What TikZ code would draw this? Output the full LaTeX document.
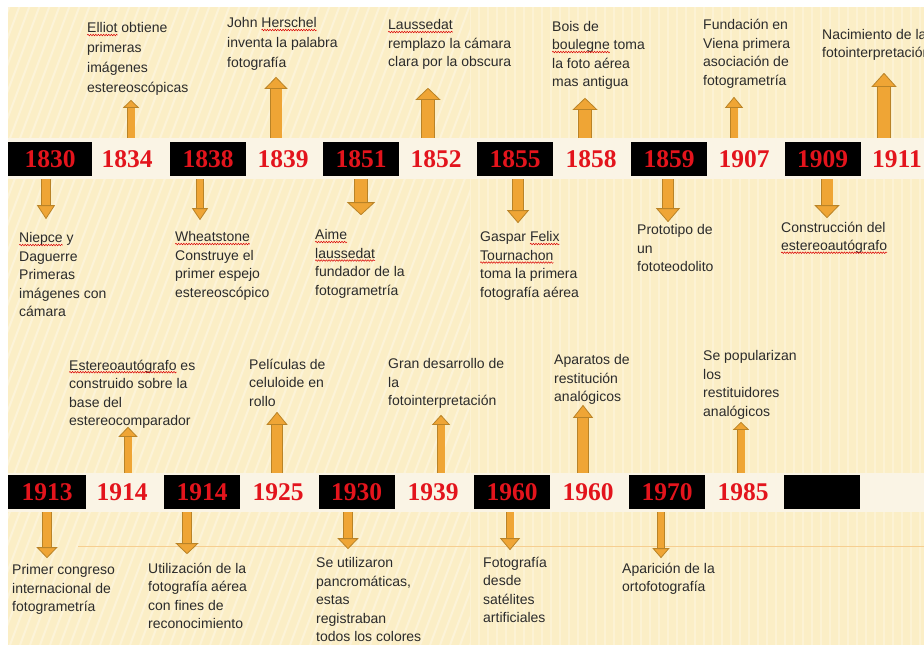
\documentclass[tikz,border=0pt]{standalone}
\usepackage{fontspec}
\usetikzlibrary{arrows.meta,decorations.pathmorphing}
\setmainfont{Liberation Sans}
\newfontfamily\yearfont{Liberation Serif}
\definecolor{panel}{HTML}{FBEEC6}
\definecolor{stripc}{HTML}{FAF4E5}
\definecolor{yearred}{HTML}{E3141C}
\definecolor{arrfill}{HTML}{EFA535}
\definecolor{arrline}{HTML}{B98327}
\definecolor{txt}{HTML}{2B2B2B}
\newcommand\sq[1]{\tikz[baseline=(w.base)]{\node[inner sep=0pt, outer sep=0pt, anchor=base west] (w) {#1};
  \draw[overlay, red!85!black, line width=0.5pt, decorate, decoration={snake, amplitude=0.8pt, segment length=2.6pt}]
    ([yshift=-2.2pt]w.base west) -- ([yshift=-2.2pt]w.base east);}}
\begin{document}
\begin{tikzpicture}[x=1pt,y=-1pt,
  yr/.style={minimum width=76pt, minimum height=34pt, inner sep=0pt,
    font=\yearfont\bfseries\fontsize{25.5}{25.5}\selectfont, text=yearred},
  blk/.style={yr, fill=black},
  ev/.style={anchor=north west, inner sep=0pt, align=left, text=txt,
    font=\fontsize{14}{18.5}\selectfont},
  wide/.style={font=\fontsize{14}{20}\selectfont},
  strip/.style={fill=stripc, inner sep=0pt, minimum width=916pt},
  stripe/.style={white, opacity=0.32, line width=2pt},
  barr/.style n args={3}{line width=#1, draw=arrfill,
    -{Triangle[width=#2, length=#3, line width=0.8pt, color=arrline, fill=arrfill]},
    preaction={draw=arrline, line width=#1+1.4pt, -, shorten >=#3-1pt}}
]
\useasboundingbox (0,0) rectangle (924,649);
\fill[panel] (8,7) rectangle (924,645);
% background texture
\begin{scope}
  \clip (8,7) rectangle (470,645);
  \foreach \i in {-30,...,70} \draw[stripe] (\i*10,645) -- ++(240,-640);
\end{scope}
\begin{scope}
  \clip (470,7) rectangle (924,645);
  \foreach \i in {0,...,50} \draw[stripe, opacity=0.25] (470+\i*9,7) -- ++(0,638);
\end{scope}

% strips
\node[strip, minimum height=41pt] (s1) at (466,158.5) {};
\node[strip, minimum height=39pt] (s2) at (466,492.5) {};
\draw[arrfill!55, line width=0.8pt] (78,546) -- (924,546);

% top years
\node[blk, minimum width=84pt] (y1830) at (50,159) {1830};
\node[yr] (y1834) at (127,159) {1834};
\node[blk] (y1838) at (208,159) {1838};
\node[yr] (y1839) at (283,159) {1839};
\node[blk] (y1851) at (361,159) {1851};
\node[yr] (y1852) at (436,159) {1852};
\node[blk] (y1855) at (515,159) {1855};
\node[yr] (y1858) at (591,159) {1858};
\node[blk] (y1859) at (669,159) {1859};
\node[yr] (y1907) at (744,159) {1907};
\node[blk] (y1909) at (822.5,159) {1909};
\node[yr] (y1911) at (897,159) {1911};

% bottom years
\node[blk, minimum width=78pt] (b1913) at (47,492) {1913};
\node[yr] (b1914) at (122,492) {1914};
\node[blk] (b1914a) at (202,492) {1914};
\node[yr] (b1925) at (278,492) {1925};
\node[blk] (b1930) at (356.5,492) {1930};
\node[yr] (b1939) at (433,492) {1939};
\node[blk] (b1960a) at (512,492) {1960};
\node[yr] (b1960) at (588,492) {1960};
\node[blk] (b1970) at (667,492) {1970};
\node[yr] (b1985) at (743,492) {1985};
\node[blk] (bblank) at (822,492) {};

% event texts
\node[ev, wide] (t1834) at (87,22.5) {\sq{Elliot} obtiene\\primeras\\imágenes\\estereoscópicas};
\node[ev, wide] (t1839) at (227,17.5) {John \sq{Herschel}\\inventa la palabra\\fotografía};
\node[ev] (t1852) at (388,19.5) {\sq{Laussedat}\\remplazo la cámara\\clara por la obscura};
\node[ev] (t1858) at (552,21) {Bois de\\\sq{boulegne} toma\\la foto aérea\\mas antigua};
\node[ev] (t1907) at (703,19) {Fundación en\\Viena primera\\asociación de\\fotogrametría};
\node[ev] (t1911) at (822,29) {Nacimiento de la\\fotointerpretación};
\node[ev] (t1830) at (19,232.5) {\sq{Niepce} y\\Daguerre\\Primeras\\imágenes con\\cámara};
\node[ev] (t1838) at (175,231.5) {\sq{Wheatstone}\\Construye el\\primer espejo\\estereoscópico};
\node[ev] (t1851) at (315,229.5) {\sq{Aime}\\\sq{laussedat}\\fundador de la\\fotogrametría};
\node[ev] (t1855) at (480,231.5) {Gaspar \sq{Felix}\\\sq{Tournachon}\\toma la primera\\fotografía aérea};
\node[ev] (t1859) at (637,224.5) {Prototipo de\\un\\fototeodolito};
\node[ev] (t1909) at (781,221.5) {Construcción del\\\sq{estereoautógrafo}};
\node[ev] (u1914) at (69,359.5) {\sq{Estereoautógrafo} es\\construido sobre la\\base del\\estereocomparador};
\node[ev] (u1925) at (249,358.5) {Películas de\\celuloide en\\rollo};
\node[ev] (u1939) at (388,358.5) {Gran desarrollo de\\la\\fotointerpretación};
\node[ev] (u1960) at (554,354.5) {Aparatos de\\restitución\\analógicos};
\node[ev] (u1985) at (703,350.5) {Se popularizan\\los\\restituidores\\analógicos};
\node[ev] (d1913) at (12,564.5) {Primer congreso\\internacional de\\fotogrametría};
\node[ev] (d1914) at (148,562.5) {Utilización de la\\fotografía aérea\\con fines de\\reconocimiento};
\node[ev] (d1930) at (316,557.5) {Se utilizaron\\pancromáticas,\\estas\\registraban\\todos los colores};
\node[ev] (d1960) at (483,556.5) {Fotografía\\desde\\satélites\\artificiales};
\node[ev] (d1970) at (622,562.5) {Aparición de la\\ortofotografía};

% top row arrows up
\draw[barr={7pt}{16pt}{8pt}]   ([xshift=4pt]y1834 |- s1.north) -- ++(0,-38);
\draw[barr={11pt}{23pt}{12pt}] ([xshift=-7pt]y1839 |- s1.north) -- ++(0,-61);
\draw[barr={12pt}{25pt}{12pt}] ([xshift=-8pt]y1852 |- s1.north) -- ++(0,-50);
\draw[barr={12pt}{25pt}{12pt}] ([xshift=-6pt]y1858 |- s1.north) -- ++(0,-40);
\draw[barr={7pt}{18pt}{11pt}]  ([xshift=-10pt]y1907 |- s1.north) -- ++(0,-41);
\draw[barr={12pt}{25pt}{14pt}] ([xshift=-13pt]y1911 |- s1.north) -- ++(0,-65);
% top row arrows down
\draw[barr={8pt}{18pt}{14pt}]  ([xshift=-4pt]y1830 |- s1.south) -- ++(0,40);
\draw[barr={6pt}{16pt}{12pt}]  ([xshift=-8pt]y1838 |- s1.south) -- ++(0,41);
\draw[barr={12pt}{28pt}{13pt}] (y1851 |- s1.south) -- ++(0,36);
\draw[barr={10pt}{22pt}{13pt}] ([xshift=3pt]y1855 |- s1.south) -- ++(0,44);
\draw[barr={10pt}{24pt}{14pt}] ([xshift=-1pt]y1859 |- s1.south) -- ++(0,43);
\draw[barr={11pt}{25pt}{13pt}] ([xshift=4.5pt]y1909 |- s1.south) -- ++(0,39);
% bottom row arrows up
\draw[barr={7pt}{19pt}{10pt}]  ([xshift=6pt]b1914 |- s2.north) -- ++(0,-46);
\draw[barr={10pt}{21pt}{13pt}] ([xshift=-1pt]b1925 |- s2.north) -- ++(0,-61);
\draw[barr={7pt}{18pt}{10pt}]  ([xshift=8pt]b1939 |- s2.north) -- ++(0,-58);
\draw[barr={10pt}{20pt}{13pt}] ([xshift=-5pt]b1960 |- s2.north) -- ++(0,-68);
\draw[barr={7pt}{16pt}{8pt}]   ([xshift=-2pt]b1985 |- s2.north) -- ++(0,-51);
% bottom row arrows down
\draw[barr={8pt}{21pt}{11pt}]  (b1913 |- s2.south) -- ++(0,46);
\draw[barr={8pt}{23pt}{11pt}]  ([xshift=-15pt]b1914a |- s2.south) -- ++(0,42);
\draw[barr={8pt}{21pt}{11pt}]  ([xshift=-8.5pt]b1930 |- s2.south) -- ++(0,37);
\draw[barr={7pt}{20pt}{12pt}]  ([xshift=-2pt]b1960a |- s2.south) -- ++(0,38);
\draw[barr={6pt}{17pt}{10pt}]  ([xshift=-6pt]b1970 |- s2.south) -- ++(0,46);
\end{tikzpicture}
\end{document}
